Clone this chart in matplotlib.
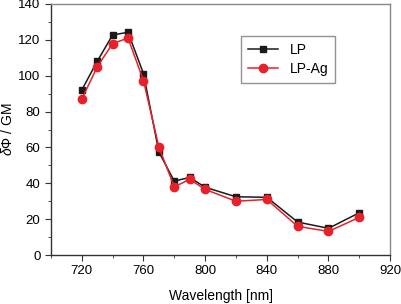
import matplotlib
matplotlib.use('Agg')
import matplotlib.pyplot as plt
from matplotlib.ticker import MultipleLocator

plt.rcParams['font.family'] = ['Liberation Sans', 'DejaVu Sans']
plt.rcParams['mathtext.fontset'] = 'custom'
plt.rcParams['mathtext.it'] = 'Liberation Sans:italic'
plt.rcParams['mathtext.rm'] = 'Liberation Sans'

# Data
wavelength = [720, 730, 740, 750, 760, 770, 780, 790, 800, 820, 840, 860, 880, 900]
lp = [92, 108, 122.7, 124.2, 101.2, 57.5, 41.2, 43.3, 37.8, 32.5, 32.2, 18.4, 14.9, 23.6]
lp_ag = [86.9, 104.9, 117.9, 121, 97.3, 60.2, 38, 42.2, 36.6, 30, 31, 16, 13.2, 21]

fig = plt.figure(figsize=(4.01, 3.04), dpi=100)
ax = fig.add_axes([0.127, 0.161, 0.846, 0.826])

ax.plot(wavelength, lp, color='#1a1a1a', marker='s', markersize=5, linewidth=1.1, label='LP')
ax.plot(wavelength, lp_ag, color='#e8202a', marker='o', markersize=6, linewidth=1.1, label='LP-Ag')

ax.set_xlim(700, 920)
ax.set_ylim(0, 140)
ax.xaxis.set_major_locator(MultipleLocator(40))
ax.xaxis.set_minor_locator(MultipleLocator(20))
ax.yaxis.set_major_locator(MultipleLocator(20))
ax.yaxis.set_minor_locator(MultipleLocator(10))
ax.tick_params(which='both', direction='out', top=False, right=False, labelsize=9.5, color='#333333')
ax.tick_params(which='major', length=4)
ax.tick_params(which='minor', length=2.5)
ax.set_xticks([720, 760, 800, 840, 880, 920])

for s in ['top', 'right']:
    ax.spines[s].set_color('#888888')
for s in ['left', 'bottom']:
    ax.spines[s].set_color('#333333')
for s in ax.spines.values():
    s.set_linewidth(1.0)

ax.set_xlabel('Wavelength [nm]', fontsize=10, labelpad=8)
ax.set_ylabel(r'$\delta\mathit{\Phi}$ / GM', fontsize=10, labelpad=2)

leg = ax.legend(loc='upper left', bbox_to_anchor=(0.56, 0.873), borderaxespad=0,
                fancybox=False, edgecolor='#777777', fontsize=10, handlelength=2.2,
                borderpad=0.5, labelspacing=0.4)
leg.get_frame().set_linewidth(1.0)

fig.savefig('out.png', dpi=100)
